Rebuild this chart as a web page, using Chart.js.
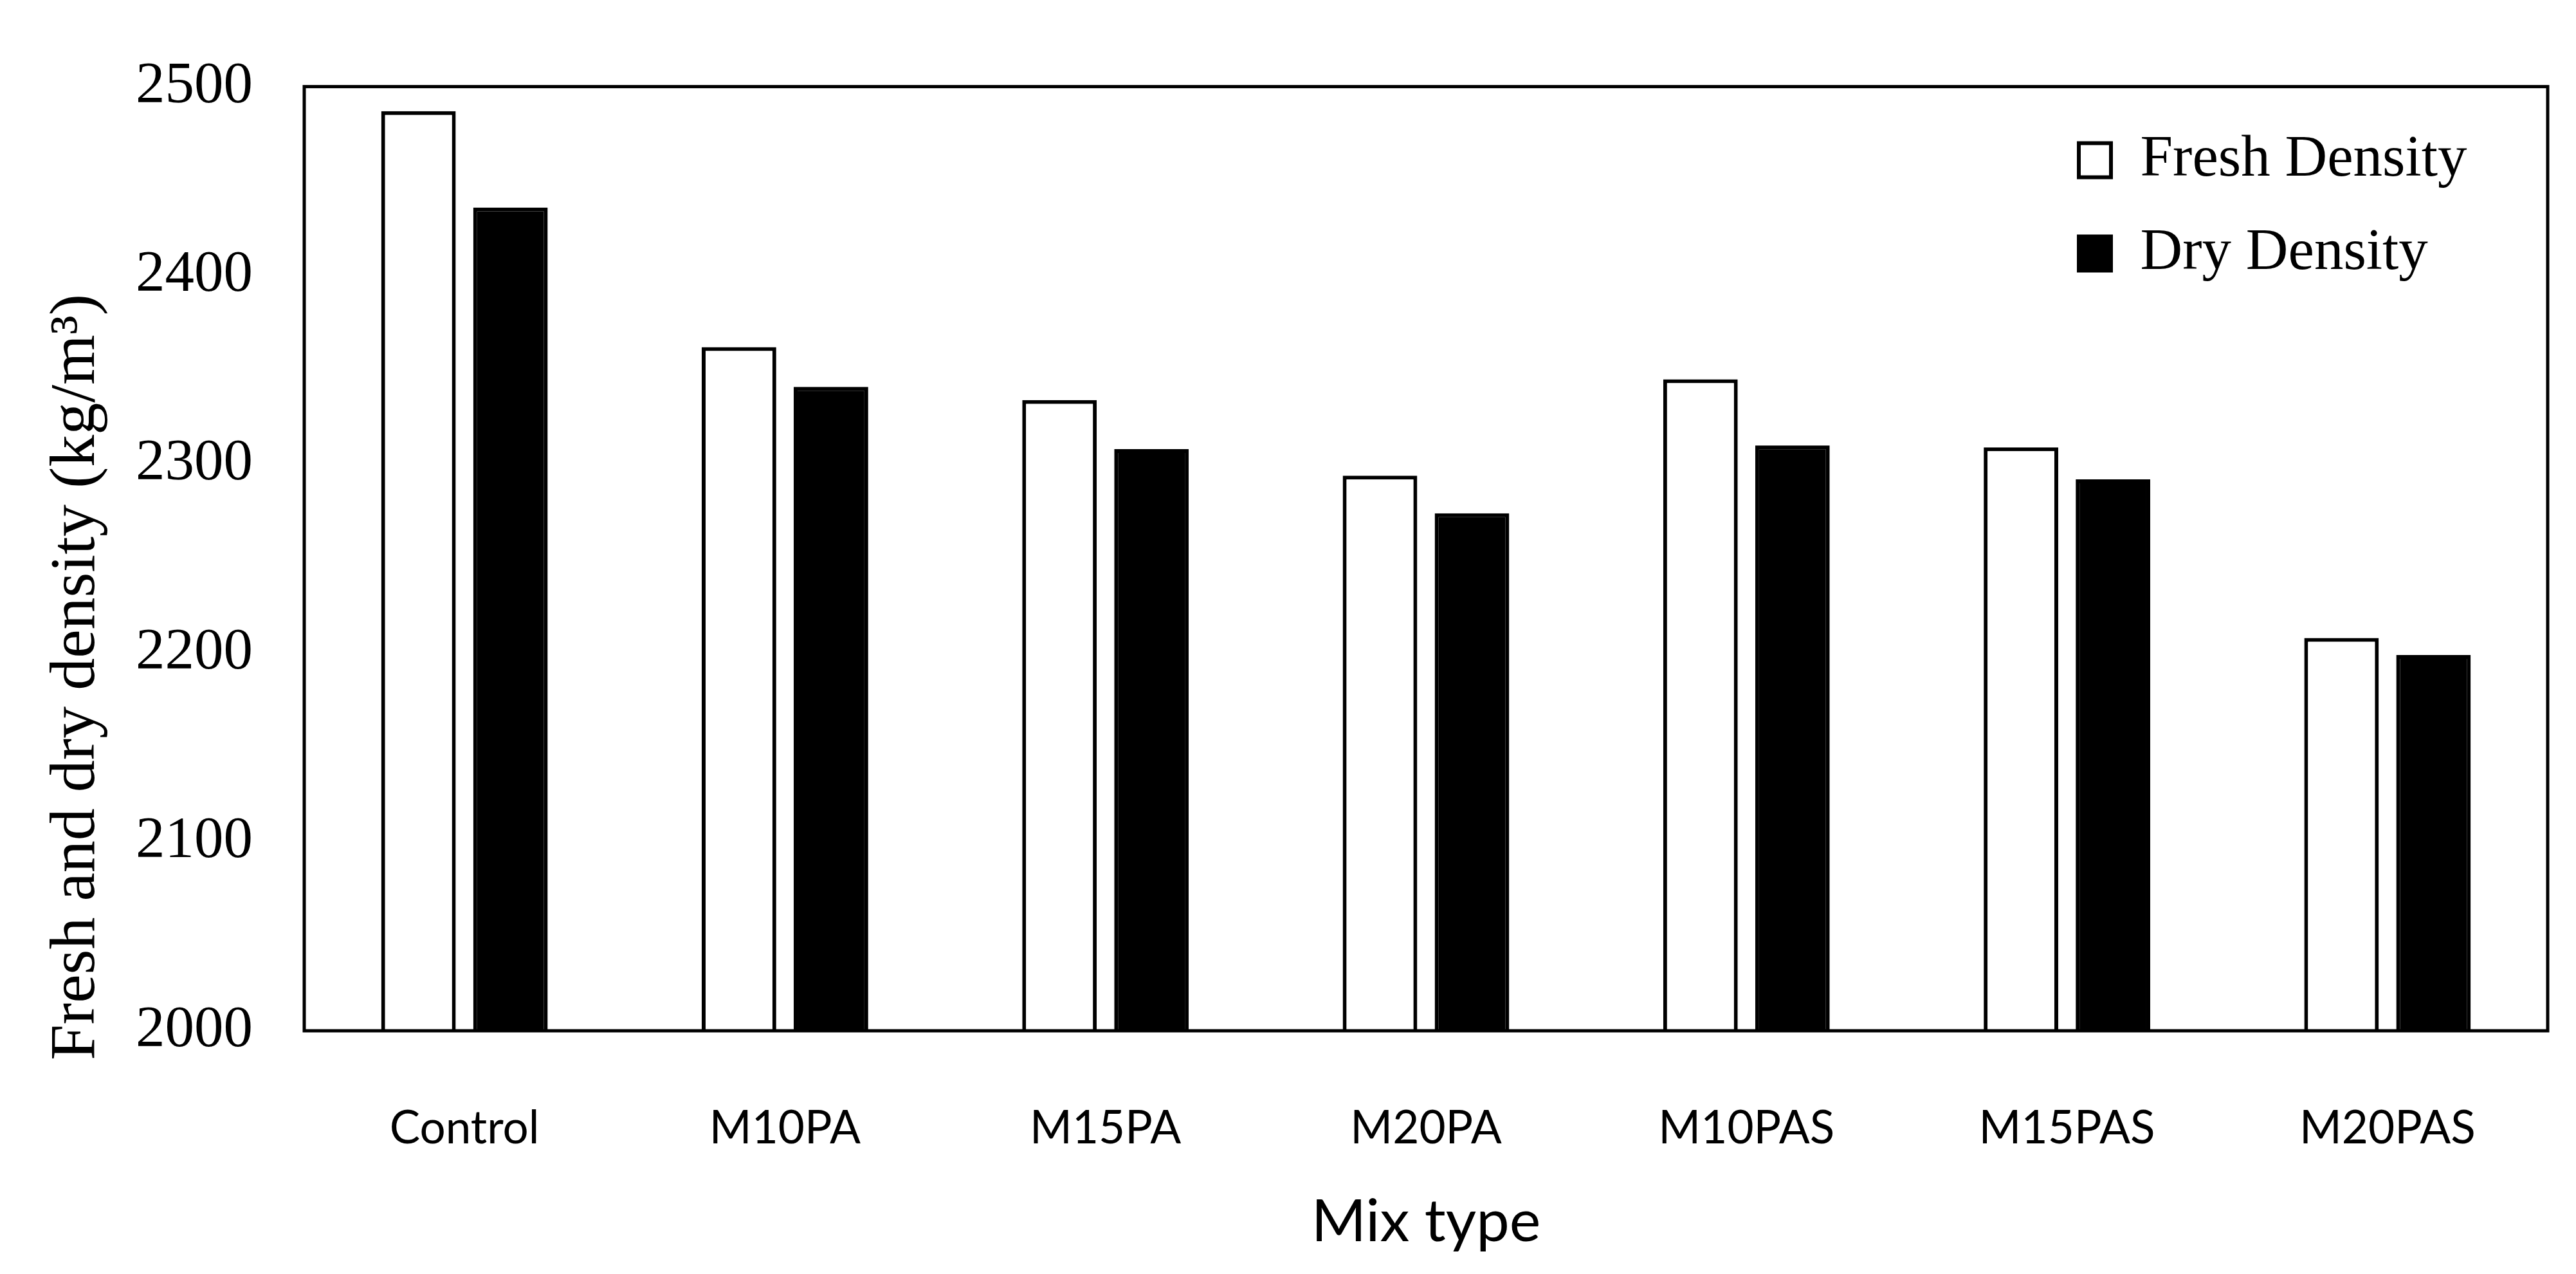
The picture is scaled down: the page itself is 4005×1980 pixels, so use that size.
<!DOCTYPE html>
<html>
<head>
<meta charset="utf-8">
<script src="https://cdn.jsdelivr.net/npm/chart.js@4.4.0/dist/chart.umd.min.js"></script>
<style>
html,body{margin:0;padding:0;background:#fff;}
#wrap{width:4005px;height:1980px;position:relative;}
</style>
</head>
<body>
<div id="wrap"><canvas id="c" width="4005" height="1980"></canvas></div>
<script>
// ---- data ----
const categories = ['Control', 'M10PA', 'M15PA', 'M20PA', 'M10PAS', 'M15PAS', 'M20PAS'];
const freshDensity = [2487, 2362, 2334, 2294, 2345, 2309, 2208];
const dryDensity = [2436, 2341, 2308, 2274, 2310, 2292, 2199];
const seriesLabels = ['Fresh Density', 'Dry Density'];
const yTickMin = 2000;
const yTickMax = 2500;
const yTickStep = 100;
const yTitle = 'Fresh and dry density (kg/m³)';
const xTitle = 'Mix type';

const serif = 'Liberation Serif, Times New Roman, serif';
const sans = 'Lato, Open Sans, sans-serif';

// ---- plugins ----
const frame = {
  id: 'frame',
  afterDatasetsDraw(chart) {
    const {ctx, chartArea: a} = chart;
    ctx.save();
    ctx.strokeStyle = '#000';
    ctx.lineWidth = 5;
    ctx.strokeRect(a.left, a.top, a.right - a.left, a.bottom - a.top);
    ctx.restore();
  }
};

// y-axis title, drawn slightly below the axis centre as in the original
const yAxisTitle = {
  id: 'yAxisTitle',
  afterDraw(chart) {
    const {ctx, chartArea: a} = chart;
    ctx.save();
    ctx.translate(120, (a.top + a.bottom) / 2 + 184);
    ctx.rotate(-Math.PI / 2);
    ctx.fillStyle = '#000';
    ctx.font = '100px ' + serif;
    ctx.textAlign = 'center';
    ctx.textBaseline = 'middle';
    ctx.fillText(yTitle, 0, 0);
    ctx.restore();
  }
};

const legendMover = {
  id: 'legendMover',
  afterLayout(chart) {
    const lg = chart.legend;
    if (!lg) return;
    const a = chart.chartArea;
    const pad = lg.options.labels.padding;
    const w = lg.width, h = lg.height;
    lg.left = a.right - 729 - pad;
    lg.top = a.top + 69 - pad;
    lg.right = lg.left + w;
    lg.bottom = lg.top + h;
  }
};

new Chart(document.getElementById('c'), {
  type: 'bar',
  data: {
    labels: categories,
    datasets: [
      {
        label: seriesLabels[0],
        data: freshDensity,
        backgroundColor: '#ffffff',
        borderColor: '#000000',
        borderWidth: 6,
        borderSkipped: 'start',
        categoryPercentage: 0.574,
        barPercentage: 0.81
      },
      {
        label: seriesLabels[1],
        data: dryDensity,
        backgroundColor: '#000000',
        borderColor: '#000000',
        borderWidth: 6,
        borderSkipped: 'start',
        categoryPercentage: 0.574,
        barPercentage: 0.81
      }
    ]
  },
  options: {
    responsive: false,
    devicePixelRatio: 1,
    animation: false,
    layout: {padding: {top: 78, right: 44, bottom: 0, left: 0}},
    plugins: {
      tooltip: {enabled: false},
      legend: {
        position: 'chartArea',
        align: 'start',
        labels: {
          color: '#000',
          font: {family: serif, size: 91},
          boxWidth: 50,
          boxHeight: 53,
          padding: 54
        }
      }
    },
    scales: {
      x: {
        grid: {display: false, drawTicks: false},
        border: {display: false},
        ticks: {
          color: '#000',
          font: {family: sans, size: 71},
          padding: 110,
          maxRotation: 0,
          autoSkip: false
        },
        title: {
          display: true,
          text: xTitle,
          color: '#000',
          font: {family: sans, size: 92},
          padding: {top: 0, bottom: 25}
        },
        afterFit(s) { s.height = 378; }
      },
      y: {
        min: yTickMin,
        max: yTickMax,
        grid: {display: false, drawTicks: false},
        border: {display: false},
        ticks: {
          stepSize: yTickStep,
          color: '#000',
          font: {family: serif, size: 91},
          padding: 80,
          callback: (v) => String(v)
        },
        title: {display: false},
        afterFit(s) { s.width = 473; }
      }
    }
  },
  plugins: [frame, legendMover, yAxisTitle]
});
</script>
</body>
</html>
